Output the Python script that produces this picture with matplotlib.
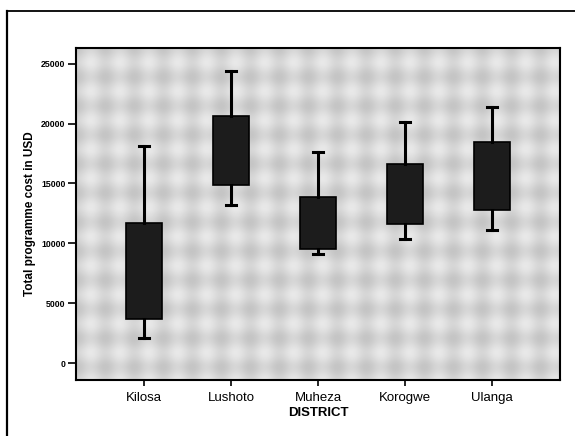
import matplotlib.pyplot as plt
import numpy as np
from matplotlib.lines import Line2D

# Données (coût total du programme en USD)
districts = ["Kilosa", "Lushoto", "Muheza", "Korogwe", "Ulanga"]
whisker_low = [2100, 13200, 9150, 10400, 11150]
q1 = [3650, 14850, 9500, 11650, 12800]
median = [7700, 17700, 11700, 14150, 15600]
q3 = [11700, 20600, 13850, 16650, 18450]
whisker_high = [18150, 24350, 17650, 20150, 21400]

yticks = [0, 5000, 10000, 15000, 20000, 25000]
ytick_labels = ["0", "5000", "10000", "15000", "20000", "25000"]

fig = plt.figure(figsize=(5.75, 4.36), dpi=100)
ax = fig.add_axes([76 / 575, 1 - 380 / 436, 484 / 575, 332 / 436])

xlim = (-0.78, 4.78)
ylim = (-1400, 26300)

# Fond gris tramé (imitation de l'impression SPSS)
nx, ny = 484, 332
gx, gy = np.meshgrid(np.arange(nx), np.arange(ny))
periode = 29.0
motif = 0.5 * (np.cos(2 * np.pi * gx / periode) + np.cos(2 * np.pi * gy / periode))
fond = 0.84 - 0.07 * motif
ax.imshow(fond, cmap="gray", vmin=0, vmax=1, extent=(*xlim, *ylim),
          aspect="auto", zorder=0, interpolation="bilinear")

stats = []
for i, nom in enumerate(districts):
    stats.append(dict(label=nom, whislo=whisker_low[i], q1=q1[i], med=median[i],
                      q3=q3[i], whishi=whisker_high[i], fliers=[]))

ax.bxp(stats, positions=range(len(districts)), widths=0.42, patch_artist=True,
       showfliers=False,
       boxprops=dict(facecolor="#1c1c1c", edgecolor="black", linewidth=1.2),
       medianprops=dict(color="#1c1c1c", linewidth=0),
       whiskerprops=dict(color="black", linewidth=2.2),
       capprops=dict(color="black", linewidth=2.2),
       capwidths=0.11, zorder=3)

ax.set_xlim(*xlim)
ax.set_ylim(*ylim)
ax.set_yticks(yticks)
ax.set_yticklabels(ytick_labels, fontsize=6.3, fontweight="bold",
                   family="Liberation Sans")
ax.set_xticks(range(len(districts)))
ax.set_xticklabels(districts, fontsize=9.5, family="Liberation Sans")
ax.tick_params(axis="y", length=6, width=1.2, pad=1.5)
ax.tick_params(axis="x", length=4.5, width=1.2, pad=4)
for s in ax.spines.values():
    s.set_linewidth(1.5)

ax.set_xlabel("DISTRICT", fontsize=9.5, fontweight="bold",
              family="Liberation Sans", labelpad=2)
fig.text(30 / 575, 1 - 214 / 436, "Total programme cost in USD", rotation=90,
         ha="center", va="center", fontsize=8.5, fontweight="bold",
         family="Liberation Sans")

# Cadre extérieur
fig.add_artist(Line2D([7 / 575, 7 / 575], [0, 1 - 11 / 436], color="black",
                      linewidth=1.6, transform=fig.transFigure))
fig.add_artist(Line2D([7 / 575, 1], [1 - 11 / 436, 1 - 11 / 436], color="black",
                      linewidth=1.3, transform=fig.transFigure))

fig.savefig("out.png", dpi=100)
